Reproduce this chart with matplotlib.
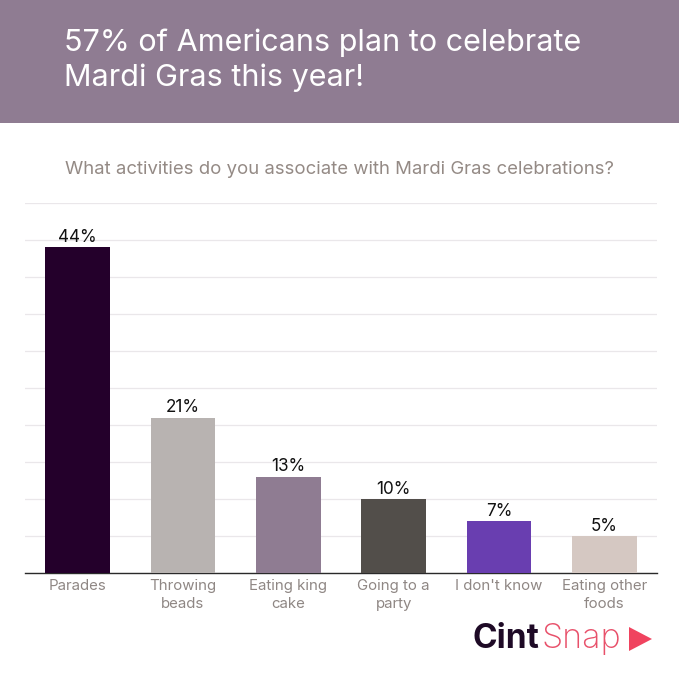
"""
Mardi Gras activities bar chart
"""
import matplotlib
matplotlib.use('Agg')
import matplotlib.pyplot as plt
from matplotlib.patches import Rectangle, Polygon

plt.rcParams['font.family'] = ['Inter', 'DejaVu Sans']

# Data
categories = ['Parades', 'Throwing\nbeads', 'Eating king\ncake', 'Going to a\nparty', "I don't know", 'Eating other\nfoods']
values = [44, 21, 13, 10, 7, 5]
labels = ['44%', '21%', '13%', '10%', '7%', '5%']
colors = ['#24002B', '#B8B3B1', '#8F7C92', '#524E4A', '#693EB0', '#D5C8C2']

W, H = 679, 680
fig = plt.figure(figsize=(W / 100, H / 100), dpi=100, facecolor='white')

# Header band
fig.patches.append(Rectangle((0, 1 - 123 / H), 1, 123 / H, transform=fig.transFigure, color='#8F7C92', lw=0))
fig.text(64 / W, 1 - 43 / H, '57% of Americans plan to celebrate', color='white', fontsize=22, va='center')
fig.text(64 / W, 1 - 78 / H, 'Mardi Gras this year!', color='white', fontsize=22, va='center')
fig.text(339.5 / W, 1 - 170 / H, 'What activities do you associate with Mardi Gras celebrations?',
         color='#948A85', fontsize=13.35, ha='center', va='center')

# Chart
ax = fig.add_axes([25 / W, 1 - 573 / H, 632 / W, 370 / H])
x = list(range(len(values)))
bars = ax.bar(x, values, width=0.615, color=colors, zorder=3)
ax.set_xlim(-0.5, 5.5)
ax.set_ylim(0, 50)
ax.set_yticks(range(0, 51, 5))
ax.tick_params(axis='y', length=0, labelleft=False)
ax.grid(axis='y', color='#EAE7EA', linewidth=0.9, zorder=0)
ax.set_axisbelow(True)
for side in ['top', 'left', 'right']:
    ax.spines[side].set_visible(False)
ax.spines['bottom'].set_color('#2A2A2A')
ax.spines['bottom'].set_linewidth(1)
ax.set_xticks(x)
ax.set_xticklabels(categories, fontsize=10.8, color='#8F8784', linespacing=1.32)
ax.tick_params(axis='x', length=0, pad=4.5)

for bar, lab in zip(bars, labels):
    ax.text(bar.get_x() + bar.get_width() / 2, bar.get_height() + 0.2, lab,
            ha='center', va='bottom', fontsize=12.3, color='#111111', zorder=4)

# Logo
fig.text(473 / W, 1 - 639 / H, 'Cint', color='#1E0A26', fontsize=24, fontweight='bold', va='center')
fig.text(541 / W, 1 - 639 / H, 'Snap', color='#E8506A', fontsize=24.5, fontweight='light', va='center')
fig.patches.append(Polygon([(629 / W, 1 - 627 / H), (629 / W, 1 - 651 / H), (652 / W, 1 - 639 / H)],
                           closed=True, transform=fig.transFigure, color='#F0435F', lw=0))

plt.savefig('out.png', dpi=100)
